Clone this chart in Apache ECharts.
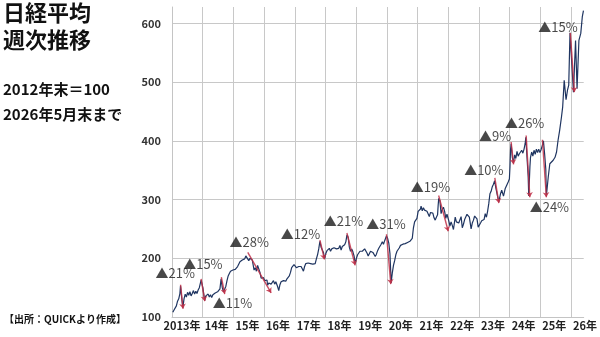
<!DOCTYPE html>
<html>
<head>
<meta charset="utf-8">
<script src="https://cdn.jsdelivr.net/npm/echarts@6/dist/echarts.min.js"></script>
<style>
  html, body { margin: 0; padding: 0; background: #fff; }
  #main { width: 600px; height: 337px; }
</style>
</head>
<body>
<div id="main"></div>
<script>
// 週次（約2週ごと）の日経平均、2012年末＝100
var w2013 = [['2013-01-11',108],['2013-01-25',112],['2013-02-08',115],['2013-02-22',119],['2013-03-08',127],['2013-03-22',131],['2013-04-05',140],['2013-04-12',153],['2013-04-26',133],['2013-05-03',124],['2013-05-10',116],['2013-05-24',131],['2013-06-07',139],['2013-06-21',134],['2013-07-05',142],['2013-07-19',137],['2013-08-02',143],['2013-08-16',136],['2013-08-30',140],['2013-09-13',145],['2013-09-27',139],['2013-10-11',144],['2013-10-25',140],['2013-11-08',146],['2013-11-22',150],['2013-12-06',149],['2013-12-13',163]];
var w2014 = [['2014-01-03',150],['2014-01-24',128],['2014-02-07',136],['2014-02-21',133],['2014-03-07',139],['2014-03-21',134],['2014-04-04',138],['2014-04-18',133],['2014-05-02',138],['2014-05-16',136],['2014-05-30',141],['2014-06-13',144],['2014-06-27',143],['2014-07-11',146],['2014-07-25',148],['2014-08-08',165],['2014-08-22',150],['2014-09-05',143],['2014-09-19',140],['2014-10-03',152],['2014-10-17',162],['2014-10-31',170],['2014-11-14',174],['2014-11-28',178],['2014-12-12',175],['2014-12-26',180]];
var w2015 = [['2015-01-09',177],['2015-01-23',181],['2015-02-06',180],['2015-02-20',186],['2015-03-06',189],['2015-03-20',194],['2015-04-03',191],['2015-04-17',197],['2015-05-01',194],['2015-05-15',199],['2015-05-29',204],['2015-06-12',201],['2015-06-19',207],['2015-07-03',196],['2015-07-17',200],['2015-07-31',202],['2015-08-14',197],['2015-09-04',180],['2015-09-18',184],['2015-10-02',178],['2015-10-16',188],['2015-10-30',185],['2015-11-13',176],['2015-11-27',166],['2015-12-11',164],['2015-12-25',167]];
var w2016 = [['2016-01-08',162],['2016-01-22',160],['2016-02-05',163],['2016-02-12',154],['2016-02-26',158],['2016-03-11',160],['2016-03-25',156],['2016-04-08',158],['2016-04-22',162],['2016-05-06',156],['2016-05-20',160],['2016-06-03',157],['2016-06-10',152],['2016-06-24',145],['2016-07-08',155],['2016-07-22',160],['2016-08-05',158],['2016-08-19',162],['2016-09-02',164],['2016-09-16',161],['2016-09-30',165],['2016-10-14',167],['2016-10-28',170],['2016-11-11',176],['2016-11-25',184],['2016-12-09',186],['2016-12-23',189]];
var w2017 = [['2017-01-06',190],['2017-01-20',184],['2017-02-03',182],['2017-02-17',186],['2017-03-03',188],['2017-03-17',186],['2017-03-31',182],['2017-04-14',178],['2017-04-28',186],['2017-05-12',191],['2017-05-26',189],['2017-06-09',192],['2017-06-23',194],['2017-07-07',191],['2017-07-21',193],['2017-08-04',190],['2017-08-18',187],['2017-09-01',191],['2017-09-15',199],['2017-09-29',206],['2017-10-13',216],['2017-10-27',229],['2017-11-10',219],['2017-11-24',221],['2017-12-08',210],['2017-12-22',199]];
var w2018 = [['2018-01-05',208],['2018-01-19',213],['2018-02-02',210],['2018-02-16',217],['2018-03-02',212],['2018-03-16',216],['2018-03-30',213],['2018-04-13',218],['2018-04-27',221],['2018-05-11',216],['2018-05-25',219],['2018-06-08',217],['2018-06-22',222],['2018-07-06',214],['2018-07-20',220],['2018-08-03',218],['2018-08-17',223],['2018-08-31',228],['2018-09-14',240],['2018-09-28',236],['2018-10-12',219],['2018-10-26',212],['2018-11-09',216],['2018-11-23',211],['2018-12-07',204],['2018-12-21',191]];
var w2019 = [['2019-01-04',200],['2019-01-18',206],['2019-02-01',208],['2019-02-15',212],['2019-03-01',214],['2019-03-15',212],['2019-03-29',209],['2019-04-12',216],['2019-04-26',218],['2019-05-10',209],['2019-05-24',204],['2019-06-07',207],['2019-06-21',212],['2019-07-05',215],['2019-07-19',210],['2019-08-02',207],['2019-08-16',203],['2019-08-30',207],['2019-09-13',213],['2019-09-27',217],['2019-10-11',219],['2019-10-25',224],['2019-11-08',228],['2019-11-22',224],['2019-12-06',230],['2019-12-27',238]];
var w2020 = [['2020-01-10',234],['2020-01-24',226],['2020-02-07',208],['2020-02-14',184],['2020-02-21',158],['2020-03-06',175],['2020-03-20',188],['2020-04-03',196],['2020-04-17',206],['2020-05-01',212],['2020-05-15',209],['2020-05-29',218],['2020-06-12',222],['2020-06-26',219],['2020-07-10',224],['2020-07-24',221],['2020-08-07',225],['2020-08-21',223],['2020-09-04',227],['2020-09-18',226],['2020-10-02',229],['2020-10-16',231],['2020-10-30',234],['2020-11-13',252],['2020-11-27',262],['2020-12-11',265],['2020-12-25',268]];
var w2021 = [['2021-01-08',280],['2021-01-22',283],['2021-02-05',284],['2021-02-12',289],['2021-02-26',281],['2021-03-12',286],['2021-03-26',282],['2021-04-09',285],['2021-04-23',280],['2021-05-07',277],['2021-05-21',271],['2021-06-04',278],['2021-06-18',275],['2021-07-02',277],['2021-07-16',269],['2021-07-30',265],['2021-08-13',270],['2021-08-27',274],['2021-09-03',290],['2021-09-10',302],['2021-09-24',298],['2021-10-08',276],['2021-10-22',283],['2021-11-05',287],['2021-11-19',280],['2021-12-03',268],['2021-12-17',275]];
var w2022 = [['2022-01-07',264],['2022-01-21',255],['2022-02-04',262],['2022-02-18',256],['2022-03-04',249],['2022-03-11',252],['2022-03-25',270],['2022-04-08',262],['2022-04-22',265],['2022-05-06',260],['2022-05-20',263],['2022-06-03',271],['2022-06-17',252],['2022-07-01',258],['2022-07-15',266],['2022-07-29',269],['2022-08-12',275],['2022-08-26',272],['2022-09-09',270],['2022-09-30',250],['2022-10-14',260],['2022-10-28',265],['2022-11-11',272],['2022-11-25',271],['2022-12-09',267],['2022-12-23',253]];
var w2023 = [['2023-01-06',250],['2023-01-20',260],['2023-02-03',264],['2023-02-17',263],['2023-03-03',266],['2023-03-17',276],['2023-03-31',270],['2023-04-14',280],['2023-04-28',293],['2023-05-12',310],['2023-05-26',314],['2023-06-09',322],['2023-06-23',326],['2023-07-07',332],['2023-07-21',320],['2023-08-04',310],['2023-08-25',296],['2023-09-15',310],['2023-09-29',316],['2023-10-20',306],['2023-11-10',319],['2023-11-24',322],['2023-12-15',330],['2023-12-29',335]];
var w2024 = [['2024-01-05',355],['2024-01-12',385],['2024-01-19',395],['2024-02-02',372],['2024-02-16',363],['2024-03-01',376],['2024-03-15',370],['2024-03-29',382],['2024-04-12',374],['2024-04-26',378],['2024-05-10',375],['2024-05-24',384],['2024-06-07',379],['2024-06-21',386],['2024-07-05',396],['2024-07-12',406],['2024-07-26',372],['2024-08-09',340],['2024-08-16',306],['2024-08-30',356],['2024-09-06',372],['2024-09-20',381],['2024-10-04',374],['2024-10-18',384],['2024-11-01',377],['2024-11-15',386],['2024-11-29',380],['2024-12-13',386],['2024-12-27',380]];
var w2025 = [['2025-01-10',385],['2025-01-24',392],['2025-02-07',400],['2025-02-21',378],['2025-03-07',352],['2025-03-14',306],['2025-04-05',338],['2025-04-24',361],['2025-05-11',358],['2025-06-03',367],['2025-06-25',372],['2025-07-13',381],['2025-07-31',401],['2025-08-19',418],['2025-09-10',441],['2025-09-24',458],['2025-10-12',503],['2025-11-03',470],['2025-11-21',487],['2025-12-05',495],['2025-12-20',584]];
var w2026 = [['2026-01-30',483],['2026-02-24',571],['2026-03-14',489],['2026-04-05',571],['2026-04-27',583],['2026-05-15',611],['2026-05-29',622]];

// 下落局面の矢印：[開始日, 開始値, 終了日, 終了値]
var drops = [
  ['2013-04-13',155,'2013-05-12',114],
  ['2013-12-13',165,'2014-01-26',127],
  ['2014-08-11',168,'2014-09-20',139],
  ['2015-06-21',210,'2016-03-25',141],
  ['2017-10-27',231,'2017-12-20',198],
  ['2018-09-13',243,'2018-12-20',188],
  ['2019-12-28',241,'2020-02-17',156],
  ['2021-09-09',307,'2022-01-01',246],
  ['2023-07-09',337,'2023-08-26',294],
  ['2024-01-19',398,'2024-02-17',360],
  ['2024-07-16',409,'2024-08-29',304],
  ['2025-01-26',402,'2025-03-14',304],
  ['2025-12-24',584,'2026-02-10',483]
];
// 下落率ラベル：[日付（左端）, 値, 文字]
var dropLabels = [
  ['2012-06-18',174,'▲21%'],
  ['2013-05-14',191,'▲15%'],
  ['2014-05-01',123,'▲11%'],
  ['2014-11-17',227,'▲28%'],
  ['2016-07-19',241,'▲12%'],
  ['2017-12-11',263,'▲21%'],
  ['2019-05-01',258,'▲31%'],
  ['2020-10-12',321,'▲19%'],
  ['2022-07-09',350,'▲10%'],
  ['2023-01-01',409,'▲9%'],
  ['2023-11-06',431,'▲26%'],
  ['2024-08-27',287,'▲24%'],
  ['2024-12-08',593,'▲15%']
];

function toYear(s) {
  var d = new Date(s + 'T00:00:00Z');
  var y = d.getUTCFullYear();
  var a = Date.UTC(y, 0, 1), b = Date.UTC(y + 1, 0, 1);
  return y + (d.getTime() - a) / (b - a);
}

var weekly = [].concat(w2013, w2014, w2015, w2016, w2017, w2018, w2019, w2020, w2021, w2022, w2023, w2024, w2025, w2026);
var FONT = '"Noto Sans CJK JP", sans-serif';

var myChart = echarts.init(document.getElementById('main'));

var option = {
  animation: false,
  backgroundColor: '#fff',
  grid: { left: 172, right: 13, top: 7, bottom: 20 },
  xAxis: {
    type: 'value',
    min: 2013,
    max: toYear('2026-06-01'),
    interval: 1,
    axisLine: { show: true, lineStyle: { color: '#c4c4c4' } },
    axisTick: { show: false },
    splitLine: { show: true, showMaxLine: false, lineStyle: { color: '#c8c8c8' } },
    axisLabel: {
      showMaxLabel: false,
      margin: 3,
      formatter: function (v) {
        if (Math.abs(v - Math.round(v)) > 1e-6) return '';
        if (v === 2013) return '{a|2013年}';
        return '{b|' + String(v).slice(2) + '年}';
      },
      rich: {
        a: { fontFamily: FONT, fontWeight: 'bold', fontSize: 11, color: '#222', padding: [0, 0, 0, 20] },
        b: { fontFamily: FONT, fontWeight: 'bold', fontSize: 11, color: '#222', padding: [0, 0, 0, 28] }
      }
    }
  },
  yAxis: {
    type: 'value',
    min: 100,
    max: 628,
    interval: 100,
    axisLine: { show: true, lineStyle: { color: '#c4c4c4' } },
    axisTick: { show: false },
    splitLine: { show: true, showMaxLine: false, lineStyle: { color: '#c8c8c8' } },
    axisLabel: {
      showMaxLabel: false,
      margin: 11,
      fontFamily: FONT,
      fontWeight: 'bold',
      fontSize: 11,
      color: '#333'
    }
  },
  graphic: [
    { type: 'text', left: 3, top: 2, style: { text: '日経平均', fontFamily: FONT, fontWeight: 'bold', fontSize: 22, fill: '#111' } },
    { type: 'text', left: 3, top: 29, style: { text: '週次推移', fontFamily: FONT, fontWeight: 'bold', fontSize: 22, fill: '#111' } },
    { type: 'text', left: 3, top: 82, style: { text: '2012年末＝100', fontFamily: FONT, fontWeight: 'bold', fontSize: 15, fill: '#111' } },
    { type: 'text', left: 3, top: 107, style: { text: '2026年5月末まで', fontFamily: FONT, fontWeight: 'bold', fontSize: 15, fill: '#111' } },
    { type: 'text', left: 4, top: 314, style: { text: '【出所：QUICKより作成】', fontFamily: FONT, fontWeight: 'bold', fontSize: 10, fill: '#111' } }
  ],
  series: [
    {
      type: 'line',
      data: weekly.map(function (p) { return [toYear(p[0]), p[1]]; }),
      showSymbol: false,
      lineStyle: { color: '#1f3561', width: 1.2 },
      z: 2
    },
    {
      type: 'lines',
      coordinateSystem: 'cartesian2d',
      symbol: ['none', 'arrow'],
      symbolSize: 5,
      lineStyle: { color: '#c03048', width: 1.4, opacity: 0.85 },
      data: drops.map(function (d) {
        return { coords: [[toYear(d[0]), d[1]], [toYear(d[2]), d[3]]] };
      }),
      z: 3
    },
    {
      type: 'scatter',
      clip: false,
      symbolSize: 0,
      data: dropLabels.map(function (l) { return { name: l[2], value: [toYear(l[0]), l[1]] }; }),
      label: {
        show: true,
        position: 'right',
        distance: 0,
        formatter: '{b}',
        fontFamily: FONT,
        fontSize: 13,
        color: '#1a1a1a'
      },
      z: 4
    }
  ]
};

myChart.setOption(option);
</script>
</body>
</html>
